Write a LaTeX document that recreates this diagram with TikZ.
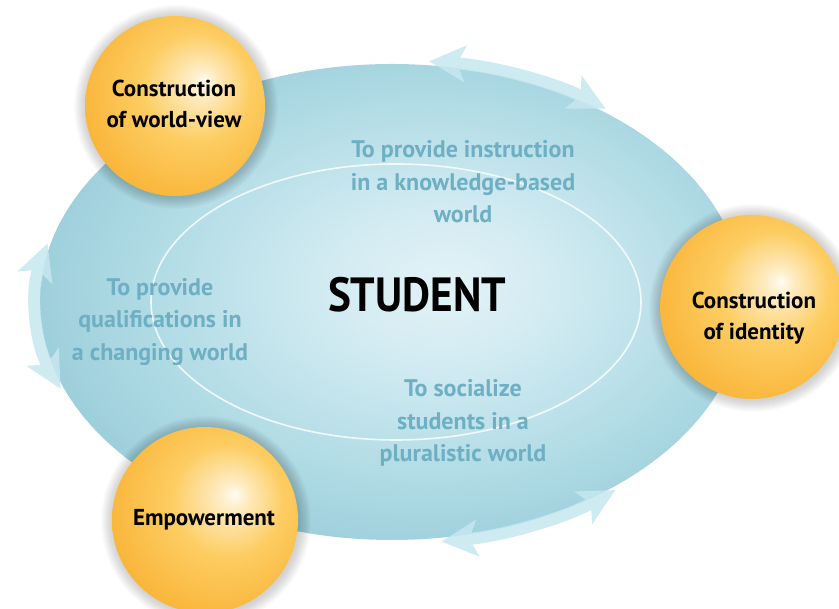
\documentclass[tikz,border=0pt]{standalone}
\usepackage{fontspec}
\setmainfont{PT Sans}
\newfontfamily\studfont[FakeStretch=0.9]{PT Sans}
\usetikzlibrary{arrows.meta}
\definecolor{lbl}{HTML}{6EAFC3}
\definecolor{arrowc}{HTML}{C6E7F0}
\definecolor{ellA}{HTML}{E2F3F7}
\definecolor{ellB}{HTML}{D0EAF1}
\definecolor{ellC}{HTML}{B0DBE5}
\definecolor{ellD}{HTML}{9ED0DC}
\definecolor{orbA}{HTML}{FFFCF3}
\definecolor{orbB}{HTML}{FEEBC0}
\definecolor{orbC}{HTML}{FDCD62}
\definecolor{orbD}{HTML}{FAB940}
\definecolor{orbE}{HTML}{F6AA2C}
\pgfdeclareradialshading{ellshade}{\pgfpoint{4bp}{2bp}}{color(0bp)=(ellA); color(9bp)=(ellB); color(20bp)=(ellC); color(27bp)=(ellD); color(60bp)=(ellD)}
\pgfdeclareradialshading{orbshade}{\pgfpoint{8bp}{7bp}}{color(0bp)=(orbA); color(4bp)=(orbB); color(15bp)=(orbC); color(28bp)=(orbD); color(38bp)=(orbE); color(60bp)=(orbE)}
\tikzset{
  bluelbl/.style={text=lbl, align=center, font=\fontsize{24}{32.5}\selectfont\bfseries},
  orblbl/.style={text=black, align=center, font=\fontsize{23}{31.5}\selectfont\bfseries},
  bigarrow/.style={draw=arrowc, line width=12pt,
     {Stealth[length=36pt,width=36pt,inset=8pt]}-{Stealth[length=36pt,width=36pt,inset=8pt]}},
  orb/.style={circle, shading=orbshade, inner sep=0pt},
}
\begin{document}
\begin{tikzpicture}[x=1pt,y=1pt]
\useasboundingbox (0,0) rectangle (839,609);
\clip (0,0) rectangle (839,609);
% main ellipse
\coordinate (E) at (392,307);
\path[shading=ellshade] (E) ellipse [x radius=352, y radius=238];
% arrows
\begin{scope}[transparency group, opacity=0.85]
\draw[bigarrow] (E) ++(84:355 and 242) arc[start angle=84, end angle=53, x radius=355, y radius=242];
\draw[bigarrow] (E) ++(-82:355 and 242) arc[start angle=-82, end angle=-51, x radius=355, y radius=242];
\draw[bigarrow] (E) ++(166:355 and 242) arc[start angle=166, end angle=201, x radius=355, y radius=242];
\end{scope}
% inner ellipse
\coordinate (I) at (396,307);
\draw[white, line width=1.6pt, opacity=0.8] (I) ellipse [x radius=245, y radius=138];
% labels
\node[bluelbl] (t1) at (463,427) {To provide instruction\\in a knowledge-based\\world};
\node[bluelbl] (t2) at (160,287) {To provide\\qualifications in\\a changing world};
\node[bluelbl] (t3) at (463,186) {To socialize\\students in a\\pluralistic world};
\node[font=\studfont\fontsize{48}{50}\selectfont\bfseries, anchor=base] (st) at (417,297) {STUDENT};
% orbs with halos
\foreach \cx/\cy/\r in {175/503/90, 752/302/92, 205/89/93}{
  \foreach \i in {1,...,12}{
    \fill[black, opacity=0.016] (\cx+1,\cy-1) circle (\r+\i);
  }
}
\node[orb, minimum size=180pt] (c1) at (175,503) {};
\node[orb, minimum size=184pt] (c2) at (752,302) {};
\node[orb, minimum size=186pt] (c3) at (205,89) {};
\node[orblbl] (l1) at (174,505) {Construction\\of world-view};
\node[orblbl] (l2) at (754,291) {Construction\\of identity};
\node[orblbl] (l3) at (204,89) {Empowerment};
\end{tikzpicture}
\end{document}
